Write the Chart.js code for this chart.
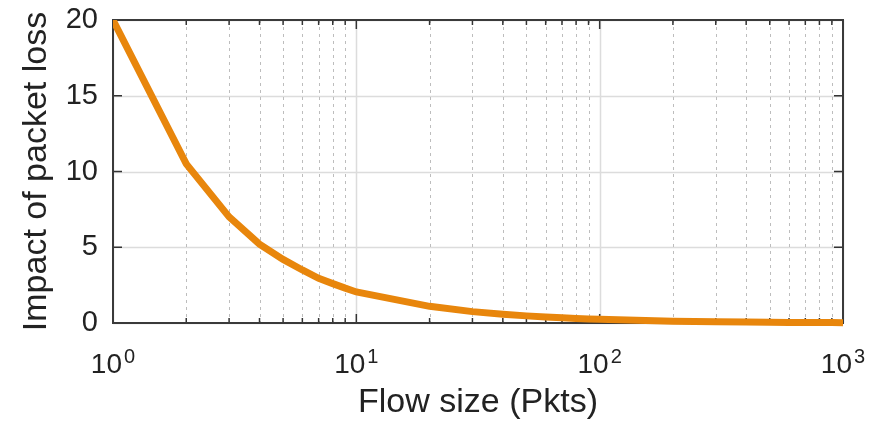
<!DOCTYPE html>
<html>
<head>
<meta charset="utf-8">
<script src="https://cdn.jsdelivr.net/npm/chart.js@4/dist/chart.umd.min.js"></script>
<style>
  html, body { margin: 0; padding: 0; background: #fff; }
  #wrap { width: 877px; height: 423px; }
</style>
</head>
<body>
<div id="wrap"><canvas id="lossChart" width="877" height="423"></canvas></div>
<script>
// ---- Data ----
const flowSizes = [1, 2, 3, 4, 5, 6, 7, 8, 9, 10, 20, 30, 40, 50, 60, 70, 80, 90, 100,
                   200, 300, 400, 500, 600, 700, 800, 900, 1000];
const lossImpact = [20, 10.5, 7.0, 5.2, 4.2, 3.5, 2.95, 2.6, 2.3, 2.05, 1.1, 0.75, 0.58, 0.47, 0.4, 0.34, 0.3, 0.27, 0.24,
                    0.12, 0.08, 0.06, 0.05, 0.04, 0.035, 0.03, 0.025, 0.02];
const xMajorTicks = [1, 10, 100, 1000];
const xTickExponents = ["0", "1", "2", "3"];
const xMinorTicks = [2, 3, 4, 5, 6, 7, 8, 9, 20, 30, 40, 50, 60, 70, 80, 90, 200, 300, 400, 500, 600, 700, 800, 900];
const yTicks = [0, 5, 10, 15, 20];

const FONT = "'Liberation Sans', Arial, Helvetica, sans-serif";
const LINE_COLOR = "#e8860c";

// grid, frame and inward tick marks (gnuplot style)
const framePlugin = {
  id: "frame",
  beforeDatasetsDraw(chart) {
    const { ctx, chartArea: a, scales: { x, y } } = chart;
    ctx.save();

    // y grid (solid, light)
    ctx.strokeStyle = "#dcdcdc";
    ctx.lineWidth = 1.5;
    yTicks.forEach(v => {
      const py = Math.round(y.getPixelForValue(v)) + 0.5;
      ctx.beginPath(); ctx.moveTo(a.left, py); ctx.lineTo(a.right, py); ctx.stroke();
    });
    // x major grid (solid)
    xMajorTicks.forEach(v => {
      const px = Math.round(x.getPixelForValue(v)) + 0.5;
      ctx.beginPath(); ctx.moveTo(px, a.top); ctx.lineTo(px, a.bottom); ctx.stroke();
    });
    // x minor grid (dotted)
    ctx.strokeStyle = "#bdbdbd";
    ctx.lineWidth = 1;
    ctx.setLineDash([3, 4]);
    xMinorTicks.forEach(v => {
      const px = Math.round(x.getPixelForValue(v)) + 0.5;
      ctx.beginPath(); ctx.moveTo(px, a.top); ctx.lineTo(px, a.bottom); ctx.stroke();
    });
    ctx.setLineDash([]);

    // tick marks, mirrored on all sides
    ctx.strokeStyle = "#333";
    ctx.lineWidth = 1.5;
    const tick = (x1, y1, x2, y2) => { ctx.beginPath(); ctx.moveTo(x1, y1); ctx.lineTo(x2, y2); ctx.stroke(); };
    xMajorTicks.forEach(v => {
      const px = x.getPixelForValue(v);
      tick(px, a.bottom, px, a.bottom - 9);
      tick(px, a.top, px, a.top + 9);
    });
    xMinorTicks.forEach(v => {
      const px = x.getPixelForValue(v);
      tick(px, a.bottom, px, a.bottom - 5);
      tick(px, a.top, px, a.top + 5);
    });
    yTicks.forEach(v => {
      const py = y.getPixelForValue(v);
      tick(a.left, py, a.left + 9, py);
      tick(a.right, py, a.right - 9, py);
    });

    // frame
    ctx.strokeStyle = "#3a3a3a";
    ctx.lineWidth = 2;
    ctx.strokeRect(a.left, a.top, a.right - a.left, a.bottom - a.top);
    ctx.restore();
  },
  afterDraw(chart) {
    // x tick labels as 10 with superscript exponent
    const { ctx, chartArea: a, scales: { x } } = chart;
    ctx.save();
    ctx.fillStyle = "#222";
    ctx.textBaseline = "alphabetic";
    xMajorTicks.forEach((v, i) => {
      const px = x.getPixelForValue(v);
      ctx.font = `28px ${FONT}`;
      const baseW = ctx.measureText("10").width;
      ctx.font = `20px ${FONT}`;
      const expW = ctx.measureText(xTickExponents[i]).width;
      const left = px - (baseW + 2 + expW) / 2;
      ctx.font = `28px ${FONT}`;
      ctx.fillText("10", left, a.bottom + 50);
      ctx.font = `20px ${FONT}`;
      ctx.fillText(xTickExponents[i], left + baseW + 2, a.bottom + 40);
    });
    ctx.restore();
  },
};

new Chart(document.getElementById("lossChart"), {
  type: "line",
  data: {
    datasets: [{
      data: flowSizes.map((f, i) => ({ x: f, y: lossImpact[i] })),
      borderColor: LINE_COLOR,
      borderWidth: 7,
      pointRadius: 0,
      tension: 0,
      fill: false,
      clip: { left: 0, top: 0, right: 4, bottom: 4 },
    }],
  },
  options: {
    responsive: false,
    devicePixelRatio: 1,
    animation: false,
    layout: { padding: { left: 0, top: 20, right: 34, bottom: 0 } },
    plugins: { legend: { display: false }, tooltip: { enabled: false } },
    scales: {
      x: {
        type: "logarithmic",
        min: 1,
        max: 1000,
        grid: { display: false },
        border: { display: false },
        ticks: { display: false },
        title: {
          display: true,
          text: "Flow size (Pkts)",
          color: "#222",
          font: { family: FONT, size: 34 },
          padding: { top: 0, bottom: 0 },
        },
        afterFit: s => { s.height = 100; s.paddingLeft = 0; s.paddingRight = 0; },
      },
      y: {
        min: 0,
        max: 20,
        grid: { display: false },
        border: { display: false },
        ticks: {
          stepSize: 5,
          padding: 7,
          color: "#222",
          font: { family: FONT, size: 29 },
        },
        title: {
          display: true,
          text: "Impact of packet loss",
          color: "#222",
          font: { family: FONT, size: 34 },
          padding: { top: 16, bottom: 0 },
        },
        afterFit: s => { s.width = 113; s.paddingTop = 0; s.paddingBottom = 0; },
      },
    },
  },
  plugins: [framePlugin],
});
</script>
</body>
</html>
